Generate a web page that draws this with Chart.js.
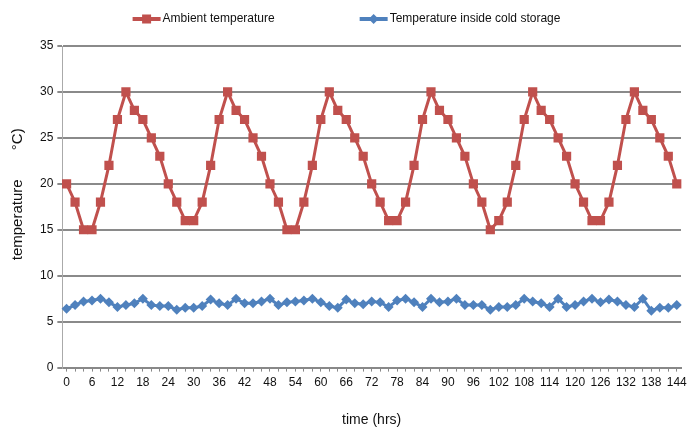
<!DOCTYPE html>
<html>
<head>
<meta charset="utf-8">
<script src="https://cdn.jsdelivr.net/npm/chart.js@4"></script>
<style>
  html, body { margin: 0; padding: 0; background: #fff; }
  #wrap { width: 691px; height: 427px; }
</style>
</head>
<body>
<div id="wrap"><canvas id="tempChart"></canvas></div>
<script>
// time in hours, one reading every 2 hrs
var hours = [];
for (let h = 0; h <= 144; h += 2) hours.push(h);

var ambient = [20, 18, 15, 15, 18, 22, 27, 30, 28, 27, 25, 23,
               20, 18, 16, 16, 18, 22, 27, 30, 28, 27, 25, 23,
               20, 18, 15, 15, 18, 22, 27, 30, 28, 27, 25, 23,
               20, 18, 16, 16, 18, 22, 27, 30, 28, 27, 25, 23,
               20, 18, 15, 16, 18, 22, 27, 30, 28, 27, 25, 23,
               20, 18, 16, 16, 18, 22, 27, 30, 28, 27, 25, 23,
               20];

var inside = [6.4, 6.8, 7.2, 7.3, 7.5, 7.1, 6.6, 6.8, 7.0, 7.5, 6.8, 6.7,
              6.7, 6.3, 6.5, 6.5, 6.7, 7.4, 7.0, 6.8, 7.5, 7.0, 7.0, 7.2,
              7.5, 6.8, 7.1, 7.2, 7.3, 7.5, 7.1, 6.7, 6.5, 7.4, 7.0, 6.9,
              7.2, 7.1, 6.6, 7.3, 7.5, 7.1, 6.6, 7.5, 7.1, 7.2, 7.5, 6.8,
              6.8, 6.8, 6.3, 6.6, 6.6, 6.8, 7.5, 7.2, 7.0, 6.6, 7.5, 6.6,
              6.8, 7.2, 7.5, 7.1, 7.4, 7.2, 6.8, 6.6, 7.5, 6.2, 6.5, 6.5,
              6.8];

var yTicks = [0, 5, 10, 15, 20, 25, 30, 35];

var RED = '#C0504D';
var BLUE = '#4F81BD';
var FONT = "'Liberation Sans Narrow', 'Liberation Sans', Arial, sans-serif";

// excel-like legend: line sample with marker, text right next to it
const lineLegend = {
    id: 'lineLegend',
    afterDraw: function (chart) {
        var ctx = chart.ctx;
        var sample = 28, gapText = 2, gapItem = 85, y = 19;
        ctx.save();
        ctx.font = '12px ' + FONT;
        var items = chart.data.datasets.map(function (ds) {
            return { ds: ds, w: ctx.measureText(ds.label).width };
        });
        var total = 0;
        items.forEach(function (it, i) {
            total += sample + gapText + it.w + (i > 0 ? gapItem : 0);
        });
        var x = chart.width / 2 + 1 - total / 2;
        items.forEach(function (it) {
            var ds = it.ds;
            ctx.strokeStyle = ds.borderColor;
            ctx.fillStyle = ds.borderColor;
            ctx.lineWidth = 4;
            ctx.beginPath();
            ctx.moveTo(x, y);
            ctx.lineTo(x + sample, y);
            ctx.stroke();
            var cx = x + sample / 2;
            if (ds.pointStyle === 'rectRot') {
                ctx.beginPath();
                ctx.moveTo(cx, y - 5);
                ctx.lineTo(cx + 5, y);
                ctx.lineTo(cx, y + 5);
                ctx.lineTo(cx - 5, y);
                ctx.closePath();
                ctx.fill();
            } else {
                ctx.fillRect(cx - 4.5, y - 4.5, 9, 9);
            }
            ctx.fillStyle = '#111';
            ctx.textBaseline = 'middle';
            ctx.textAlign = 'left';
            ctx.fillText(ds.label, x + sample + gapText, y);
            x += sample + gapText + it.w + gapItem;
        });
        ctx.restore();
    }
};

const ctx = document.getElementById('tempChart');

const data = {
    labels: hours,
    datasets: [{
        label: 'Ambient temperature',
        data: ambient,
        borderColor: RED,
        backgroundColor: RED,
        borderWidth: 3,
        pointStyle: 'rect',
        pointRadius: 6.5,
        pointBorderWidth: 0,
        tension: 0
    }, {
        label: 'Temperature inside cold storage',
        data: inside,
        borderColor: BLUE,
        backgroundColor: BLUE,
        borderWidth: 3,
        pointStyle: 'rectRot',
        pointRadius: 5,
        pointBorderWidth: 0,
        tension: 0
    }]
};

const config = {
    type: 'line',
    data: data,
    plugins: [lineLegend],
    options: {
        responsive: true,
        maintainAspectRatio: false,
        animation: false,
        layout: { padding: { left: 9, right: 10, top: 46, bottom: 0 } },
        plugins: {
            tooltip: { enabled: false },
            legend: { display: false }
        },
        scales: {
            x: {
                type: 'category',
                offset: true,
                grid: {
                    display: true,
                    drawOnChartArea: false,
                    offset: false,
                    tickLength: 4,
                    color: '#888'
                },
                border: { color: '#888', width: 2 },
                ticks: {
                    autoSkip: false,
                    maxRotation: 0,
                    padding: 4,
                    color: '#111',
                    font: { family: FONT, size: 12 },
                    callback: function (val, idx) {
                        var h = hours[idx];
                        return h % 6 === 0 ? String(h) : '';
                    }
                },
                title: {
                    display: true,
                    text: 'time (hrs)',
                    color: '#111',
                    font: { family: FONT, size: 14, lineHeight: 1 },
                    padding: { top: 19, bottom: 0 }
                }
            },
            y: {
                min: 0,
                max: 35,
                afterBuildTicks: function (scale) {
                    scale.ticks = yTicks.map(function (v) { return { value: v }; });
                },
                grid: {
                    color: '#8a8a8a',
                    lineWidth: 2,
                    drawTicks: true,
                    tickLength: 5
                },
                border: { color: '#aaa', width: 1 },
                ticks: {
                    color: '#111',
                    padding: 4,
                    font: { family: FONT, size: 12 }
                },
                title: {
                    display: true,
                    text: '      temperature       °C)',
                    color: '#111',
                    font: { family: FONT, size: 15 },
                    padding: { top: 0, bottom: 9 }
                }
            }
        }
    }
};

const tempChart = new Chart(ctx, config);
</script>
</body>
</html>
